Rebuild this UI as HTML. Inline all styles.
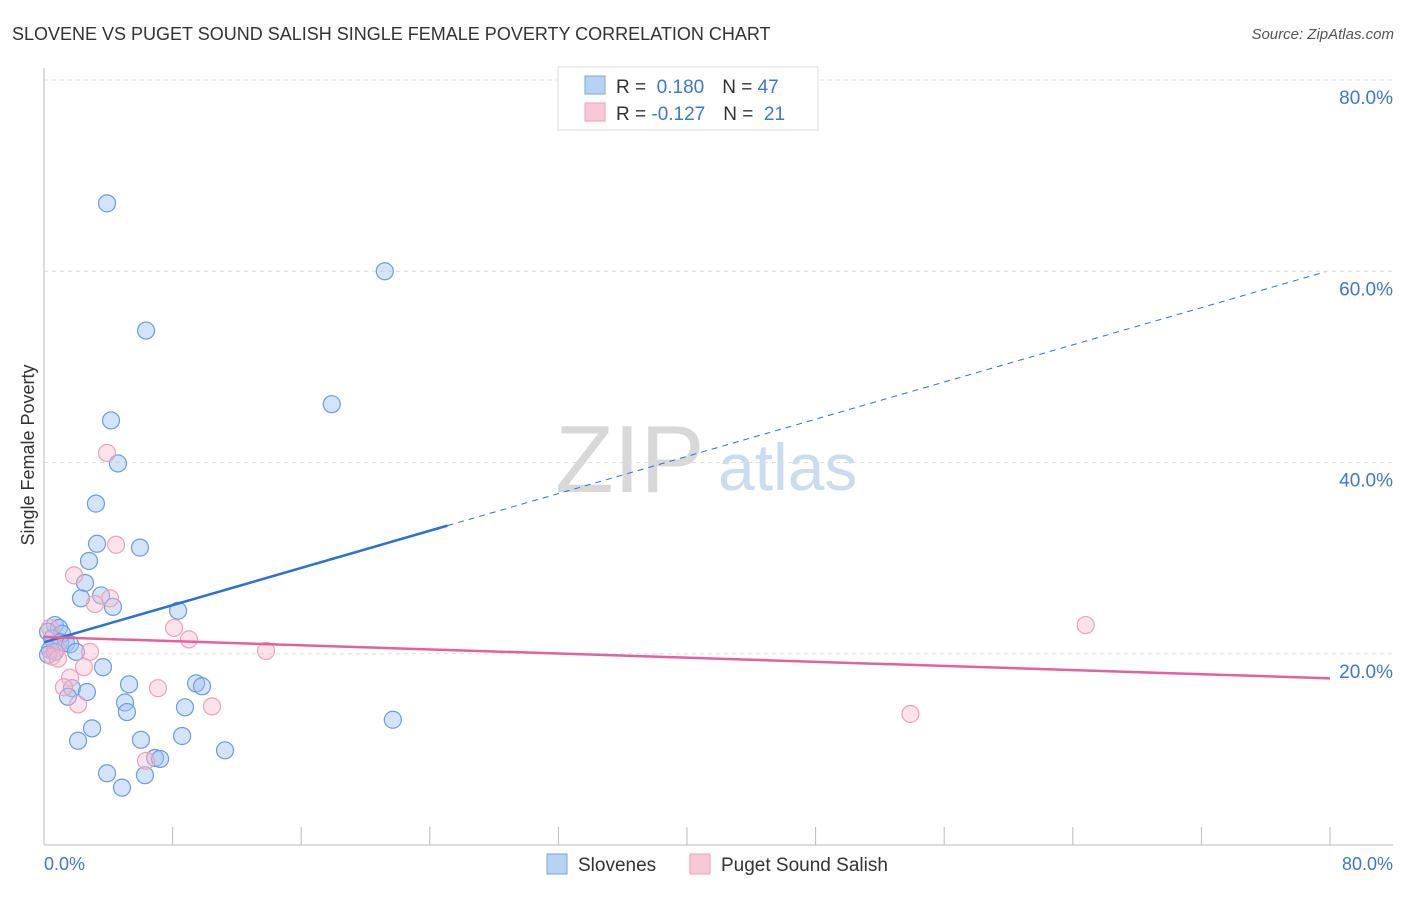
<!DOCTYPE html>
<html><head><meta charset="utf-8"><style>
body{margin:0;background:#fff;font-family:"Liberation Sans",sans-serif;}
svg text{font-family:"Liberation Sans",sans-serif;}
</style></head><body>
<svg width="1406" height="892" xmlns="http://www.w3.org/2000/svg">
<text x="12" y="40" font-size="18" fill="#333">SLOVENE VS PUGET SOUND SALISH SINGLE FEMALE POVERTY CORRELATION CHART</text>
<text x="1394" y="39" font-size="15" fill="#555" text-anchor="end" font-style="italic">Source: ZipAtlas.com</text>
<text x="555" y="492" font-size="96" fill="#d8d8d8" font-family="Liberation Serif">ZIP</text>
<text x="718" y="490" font-size="66" fill="#c9dcf2">atlas</text>
<g id="grid"></g>
<g id="axes"></g>
<text transform="translate(34,455) rotate(-90)" font-size="18" fill="#333" text-anchor="middle">Single Female Poverty</text>
<text x="44" y="870" font-size="18" fill="#3b78d8">0.0%</text>
<text x="1393" y="870" font-size="18" fill="#3b78d8" text-anchor="end">80.0%</text>
<g id="pts"></g>
<g id="lines"></g>
<g>
<rect x="558" y="67" width="260" height="63" fill="#fff" stroke="#ddd"/>
<rect x="585" y="76" width="20" height="18" fill="#b8d2f4" stroke="#7aa6e0"/>
<rect x="585" y="103" width="20" height="18" fill="#f9c8d6" stroke="#f0a0b8"/>
<text x="616" y="93" font-size="19" fill="#333">R = <tspan fill="#3b78d8">&#160;0.180</tspan><tspan dx="18">N = </tspan><tspan fill="#3b78d8">47</tspan></text>
<text x="616" y="120" font-size="19" fill="#333">R = <tspan fill="#3b78d8">-0.127</tspan><tspan dx="18">N = </tspan><tspan fill="#3b78d8">&#160;21</tspan></text>
</g>
<g>
<rect x="547" y="854" width="20" height="20" fill="#b8d2f4" stroke="#7aa6e0"/>
<text x="578" y="871" font-size="19" fill="#333">Slovenes</text>
<rect x="690" y="854" width="20" height="20" fill="#f9c8d6" stroke="#f0a0b8"/>
<text x="721" y="871" font-size="19" fill="#333">Puget Sound Salish</text>
</g>
</svg>
<script>
const blueX=[3.92,21.2,6.35,17.9,4.17,4.60,3.23,3.30,5.97,2.80,2.55,2.30,3.55,4.29,8.34,0.68,0.93,0.25,1.12,0.50,1.00,1.37,1.62,0.37,0.68,1.99,0.25,3.67,5.29,1.74,2.67,1.49,9.46,9.83,5.04,5.16,8.77,2.99,2.12,6.03,8.59,11.26,6.91,7.22,3.92,6.28,4.85,21.7];
const blueY=[67.1,60.0,53.8,46.1,44.4,39.9,35.7,31.5,31.1,29.7,27.4,25.8,26.1,24.9,24.5,23.0,22.7,22.3,22.1,21.6,21.2,21.1,21.0,20.4,20.2,20.2,19.9,18.6,16.8,16.4,16.0,15.5,16.9,16.6,14.9,13.9,14.4,12.2,10.9,11.0,11.4,9.9,9.1,9.0,7.5,7.3,6.0,13.1];
const pinkX=[3.92,4.48,1.87,4.11,3.17,8.09,9.02,0.37,0.75,2.86,13.81,0.50,0.87,2.49,1.62,1.24,7.09,10.45,2.12,6.35,64.8,53.9];
const pinkY=[41.0,31.4,28.2,25.8,25.2,22.7,21.5,22.7,20.6,20.2,20.3,19.7,19.5,18.6,17.5,16.5,16.4,14.5,14.7,8.8,23.0,13.7];
const yTicks=[20,40,60,80];
const xTicks=[0,8,16,24,32,40,48,56,64,72,80];
const blueTrend=[21.2,0.486];
const pinkTrend=[21.75,-0.054];
const NS="http://www.w3.org/2000/svg";
const X=v=>44+v/80*1286, Y=v=>845-v/80*765;
function mk(tag,attrs,parent){const e=document.createElementNS(NS,tag);for(const k in attrs)e.setAttribute(k,attrs[k]);document.getElementById(parent).appendChild(e);return e;}
yTicks.forEach(t=>{
 const l=mk('line',{x1:44,x2:1393,y1:Y(t),y2:Y(t),stroke:'#ddd','stroke-dasharray':'4,4'},'grid');
 
 
 const tx=mk('text',{x:1393,y:Y(t)+24,'font-size':19,fill:'#3b78d8','text-anchor':'end'},'grid');
 tx.textContent=t.toFixed(1)+'%';
 
 
});
mk('line',{x1:44,x2:44,y1:68,y2:845,stroke:'#bbb'},'axes');
mk('line',{x1:44,x2:1393,y1:845,y2:845,stroke:'#bbb'},'axes');
xTicks.forEach(t=>{
 const l=mk('line',{x1:X(t),x2:X(t),y1:827,y2:845,stroke:'#bbb'},'axes');
 
 
});
blueX.forEach((v,i)=>{
 const c=mk('circle',{cx:X(v),cy:Y(blueY[i]),r:8.5,fill:'rgba(160,196,240,0.45)',stroke:'#6b9be0','stroke-width':1.2},'pts');
 
 
});
pinkX.forEach((v,i)=>{
 const c=mk('circle',{cx:X(v),cy:Y(pinkY[i]),r:8.5,fill:'rgba(248,185,205,0.4)',stroke:'#f0a0b8','stroke-width':1.2},'pts');
 
 
});
const bf=x=>blueTrend[0]+blueTrend[1]*x, pf=x=>pinkTrend[0]+pinkTrend[1]*x;
const b1=mk('line',{x1:X(0),y1:Y(bf(0)),x2:X(25.1),y2:Y(bf(25.1)),stroke:'#2a72d8','stroke-width':2.5},'lines');


const b2=mk('line',{x1:X(25.1),y1:Y(bf(25.1)),x2:X(79.7),y2:Y(bf(79.7)),stroke:'#2a72d8','stroke-width':1,'stroke-dasharray':'6,5'},'lines');


const p1=mk('line',{x1:X(0),y1:Y(pf(0)),x2:X(80),y2:Y(pf(80)),stroke:'#e8609a','stroke-width':2.5},'lines');


</script>
</body></html>
